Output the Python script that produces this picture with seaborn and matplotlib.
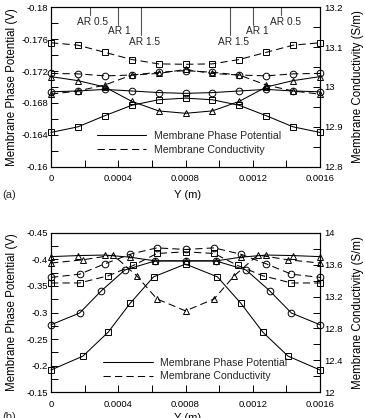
import numpy as np
import pandas as pd
import seaborn as sns
import matplotlib
matplotlib.use("Agg")
import matplotlib.pyplot as plt
from matplotlib.lines import Line2D
from matplotlib.ticker import FixedLocator, FuncFormatter
import matplotlib.transforms as mtransforms

# ---------------- data: panel (a) ----------------
xa = [0, 0.00016, 0.00032, 0.00048, 0.00064, 0.0008, 0.00096, 0.00112, 0.00128, 0.00144, 0.0016]
pot_a_sq = [-0.1643, -0.1650, -0.1664, -0.1677, -0.1684, -0.1686, -0.1684, -0.1677, -0.1664, -0.1650, -0.1643]
pot_a_tri = [-0.1713, -0.1708, -0.1700, -0.1682, -0.1670, -0.1667, -0.1670, -0.1682, -0.1700, -0.1708, -0.1713]
pot_a_cir = [-0.1694, -0.1695, -0.1697, -0.1695, -0.1693, -0.1692, -0.1693, -0.1695, -0.1697, -0.1695, -0.1694]
cond_a_sq = [13.111, 13.105, 13.087, 13.069, 13.058, 13.057, 13.058, 13.069, 13.087, 13.105, 13.111]
cond_a_cir = [13.034, 13.033, 13.028, 13.030, 13.037, 13.041, 13.037, 13.030, 13.028, 13.033, 13.034]
cond_a_tri = [12.982, 12.990, 13.005, 13.030, 13.034, 13.044, 13.034, 13.030, 13.005, 12.990, 12.982]

# ---------------- data: panel (b) ----------------
x_sq_b = [0, 0.00019, 0.00034, 0.00047, 0.00061, 0.0008, 0.00099, 0.00113, 0.00126, 0.00141, 0.0016]
pot_b_sq = [-0.192, -0.218, -0.263, -0.317, -0.367, -0.391, -0.367, -0.317, -0.263, -0.218, -0.192]
x_cir_b = [0, 0.00017, 0.00030, 0.00044, 0.00062, 0.0008, 0.00098, 0.00116, 0.00130, 0.00143, 0.0016]
pot_b_cir = [-0.277, -0.299, -0.341, -0.380, -0.397, -0.397, -0.397, -0.380, -0.341, -0.299, -0.277]
x_tri_b = [0, 0.00016, 0.00032, 0.00047, 0.00062, 0.0008, 0.00098, 0.00113, 0.00128, 0.00144, 0.0016]
pot_b_tri = [-0.405, -0.407, -0.408, -0.404, -0.397, -0.397, -0.397, -0.404, -0.408, -0.407, -0.405]
x_tri_bc = [0, 0.00019, 0.00037, 0.00051, 0.00063, 0.0008, 0.00097, 0.00109, 0.00123, 0.00141, 0.0016]
cond_b_tri = [13.62, 13.66, 13.72, 13.46, 13.17, 13.02, 13.17, 13.46, 13.72, 13.66, 13.62]
x_cir_bc = [0, 0.00017, 0.00032, 0.00047, 0.00063, 0.0008, 0.00097, 0.00113, 0.00128, 0.00143, 0.0016]
cond_b_cir = [13.44, 13.48, 13.61, 13.73, 13.81, 13.79, 13.81, 13.73, 13.61, 13.48, 13.44]
x_sq_bc = [0, 0.00017, 0.00034, 0.00049, 0.00063, 0.0008, 0.00097, 0.00111, 0.00126, 0.00143, 0.0016]
cond_b_sq = [13.37, 13.37, 13.46, 13.59, 13.74, 13.76, 13.74, 13.59, 13.46, 13.37, 13.37]

# ---------------- ticks / labels ----------------
x_ticks = [0, 0.0004, 0.0008, 0.0012, 0.0016]
x_minor = [0.0002, 0.0006, 0.0010, 0.0014]
a_left_ticks = [-0.18, -0.176, -0.172, -0.168, -0.164, -0.16]
a_right_ticks = [12.8, 12.9, 13.0, 13.1, 13.2]
b_left_ticks = [-0.45, -0.4, -0.35, -0.3, -0.25, -0.2, -0.15]
b_right_ticks = [12.0, 12.4, 12.8, 13.2, 13.6, 14.0]
ar_labels_left = ["AR 0.5", "AR 1", "AR 1.5"]
ar_x_left = [0.000247, 0.000407, 0.000556]
ar_line_left = [0.000232, 0.000400, 0.000533]
ar_labels_right = ["AR 1.5", "AR 1", "AR 0.5"]
ar_x_right = [0.001083, 0.001228, 0.001397]
ar_line_right = [0.001067, 0.001200, 0.001368]

sns.set_theme(style="ticks")
plt.rcParams["font.family"] = ["Liberation Sans", "DejaVu Sans"]
plt.rcParams["axes.linewidth"] = 0.8

fig = plt.figure(figsize=(3.65, 4.18), dpi=100)
W, H = 365, 418
L, R = 51, 320


def make_axes(top, bottom):
    return fig.add_axes([L / W, 1 - bottom / H, (R - L) / W, (bottom - top) / H])


fmt = FuncFormatter(lambda v, p: ("%g" % v).replace("\u2212", "-"))
LW = 0.75
MS = 4.8
DASH = (0, (7, 4))


def series(ax, x, y, marker, ls):
    sns.lineplot(x=x, y=y, ax=ax, color="black", linewidth=LW, linestyle=ls,
                 marker=marker, markersize=MS, markerfacecolor="none",
                 markeredgecolor="black", markeredgewidth=0.7, clip_on=False,
                 sort=False)


def style_axes(ax, ax2, lticks, lminor, rticks, rminor, ylim, rlim):
    ax.set_xlim(0, 0.0016)
    ax.set_ylim(*ylim)
    ax2.set_ylim(*rlim)
    ax.xaxis.set_major_locator(FixedLocator(x_ticks))
    ax.xaxis.set_minor_locator(FixedLocator(x_minor))
    ax.yaxis.set_major_locator(FixedLocator(lticks))
    ax.yaxis.set_minor_locator(FixedLocator(lminor))
    ax2.yaxis.set_major_locator(FixedLocator(rticks))
    ax2.yaxis.set_minor_locator(FixedLocator(rminor))
    for a in (ax, ax2):
        a.xaxis.set_major_formatter(fmt)
        a.yaxis.set_major_formatter(fmt)
        for s in a.spines.values():
            s.set_visible(True)
            s.set_color("black")
            s.set_linewidth(0.8)
    ax.tick_params(axis="both", which="both", direction="in", length=5, width=0.7,
                   colors="black", labelsize=6.8, top=False, right=False)
    ax.tick_params(axis="x", pad=5.5)
    ax.tick_params(axis="y", pad=2)
    ax2.tick_params(axis="y", which="both", direction="in", length=5, width=0.7,
                    colors="black", labelsize=6.8, pad=3)
    ax.set_ylabel("Membrane Phase Potential (V)", fontsize=8.3, color="black")
    ax2.set_ylabel("Membrane Conductivity (S/m)", fontsize=8.3, color="black")
    ax.yaxis.set_label_coords(-0.123, 0.5)
    ax2.yaxis.set_label_coords(1.119, 0.5)
    ax.set_xlabel("Y (m)", fontsize=8.0, color="black")
    ax.xaxis.label.set_va("center")
    ax.grid(False)
    ax2.grid(False)


def legend(ax, x0, y0):
    handles = [Line2D([], [], color="black", lw=LW),
               Line2D([], [], color="black", lw=LW, ls=DASH)]
    lg = ax.legend(handles, ["Membrane Phase Potential", "Membrane Conductivity"],
                   loc="upper left", bbox_to_anchor=(x0, y0), frameon=False,
                   fontsize=7.6, handlelength=4.7, handletextpad=0.7,
                   labelspacing=0.35, borderpad=0, borderaxespad=0)
    return lg


# ---------------- panel (a) ----------------
axa = make_axes(7.3, 166.7)
axa2 = axa.twinx()
series(axa, xa, pot_a_sq, "s", "-")
series(axa, xa, pot_a_tri, "^", "-")
series(axa, xa, pot_a_cir, "o", "-")
series(axa2, xa, cond_a_sq, "s", DASH)
series(axa2, xa, cond_a_cir, "o", DASH)
series(axa2, xa, cond_a_tri, "^", DASH)
style_axes(axa, axa2, a_left_ticks, list(np.arange(-0.178, -0.16, 0.004)),
           a_right_ticks, [12.85, 12.95, 13.05, 13.15], (-0.16, -0.18), (12.8, 13.2))
axa.xaxis.set_label_coords(0.509, -0.178)
legend(axa, 0.170, 0.225)

trans = mtransforms.blended_transform_factory(axa.transData, axa.transAxes)
text_y = [0.9097, 0.8532, 0.7842]
line_end = [0.952, 0.889, 0.826]
for lab, tx, lx, ty, le in zip(ar_labels_left, ar_x_left, ar_line_left, text_y, line_end):
    axa.text(tx, ty, lab, transform=trans, ha="center", va="center", fontsize=7.3)
    axa.plot([lx, lx], [1.0, le], transform=trans, color="#555555", lw=0.8)
for lab, tx, lx, ty, le in zip(ar_labels_right, ar_x_right, ar_line_right,
                               text_y[::-1], line_end[::-1]):
    axa.text(tx, ty, lab, transform=trans, ha="center", va="center", fontsize=7.3)
    axa.plot([lx, lx], [1.0, le], transform=trans, color="#555555", lw=0.8)

fig.text(2 / W, 1 - 195 / H, "(a)", fontsize=8, va="center", ha="left")

# ---------------- panel (b) ----------------
axb = make_axes(232.7, 392.3)
axb2 = axb.twinx()
series(axb, x_sq_b, pot_b_sq, "s", "-")
series(axb, x_cir_b, pot_b_cir, "o", "-")
series(axb, x_tri_b, pot_b_tri, "^", "-")
series(axb2, x_tri_bc, cond_b_tri, "^", DASH)
series(axb2, x_cir_bc, cond_b_cir, "o", DASH)
series(axb2, x_sq_bc, cond_b_sq, "s", DASH)
style_axes(axb, axb2, b_left_ticks, list(np.arange(-0.425, -0.15, 0.05)),
           b_right_ticks, [12.2, 12.6, 13.0, 13.4, 13.8], (-0.15, -0.45), (12.0, 14.0))
axb.xaxis.set_label_coords(0.509, -0.160)
legend(axb, 0.194, 0.218)
fig.text(2 / W, 1 - 417.5 / H, "(b)", fontsize=8, va="center", ha="left")

fig.savefig("out.png", dpi=100)
